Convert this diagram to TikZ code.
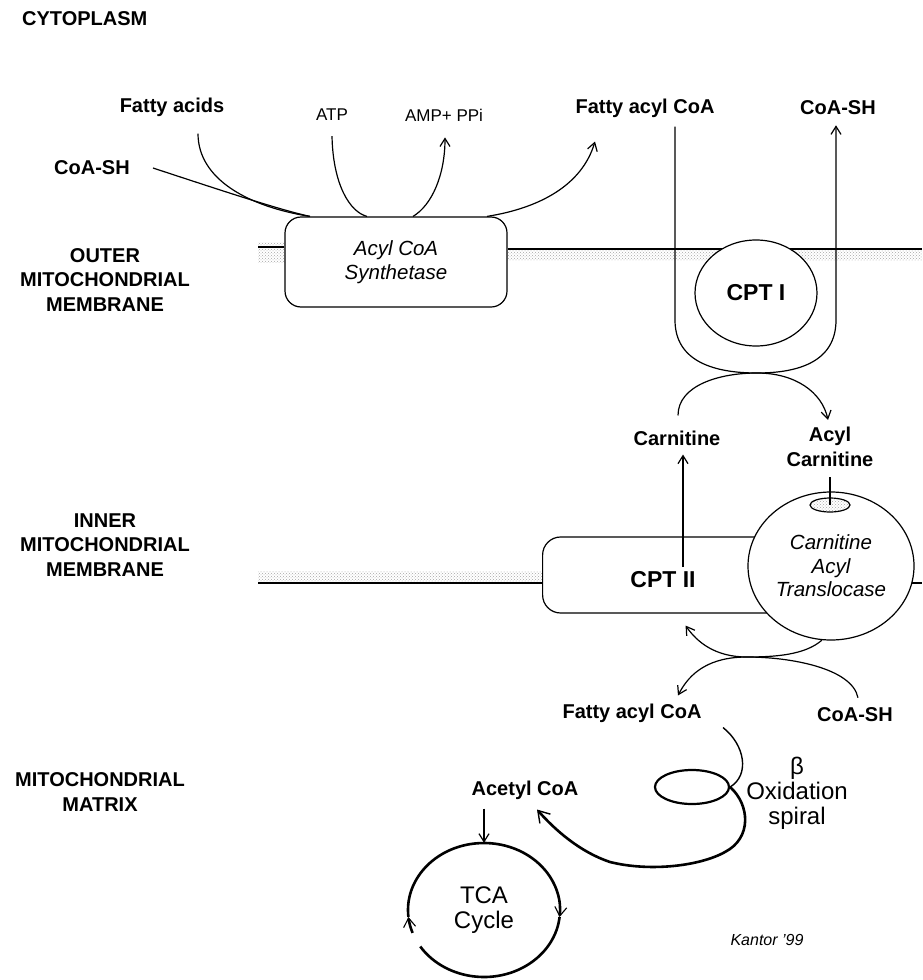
\documentclass[tikz,border=0pt]{standalone}
\usepackage{fontspec}
\setmainfont{Liberation Sans}
\usetikzlibrary{arrows.meta,positioning,shapes.geometric,patterns}

\tikzset{
  region/.style={font=\fontsize{20}{24.5}\selectfont\bfseries, align=center, inner sep=0pt},
  metab/.style={font=\fontsize{20}{25}\selectfont\bfseries, align=center, inner sep=1pt},
  minor/.style={font=\fontsize{17}{20}\selectfont, inner sep=1pt},
  enzyme/.style={font=\fontsize{20.5}{23.5}\selectfont\itshape, align=center, inner sep=0pt},
  cpt/.style={font=\fontsize{23}{26}\selectfont\bfseries, inner sep=1pt},
  plain/.style={font=\fontsize{24}{25}\selectfont, align=center, inner sep=0pt},
  conn/.style={line width=1.2pt},
  flow/.style={conn, -{Straight Barb[length=8pt,width=10pt]}},
  membrane/.style={line width=1.3pt},
  stipple/.style={pattern=crosshatch dots, pattern color=gray!70},
  tcaring/.style={line width=2.6pt},
  ringtip/.style={-{Straight Barb[length=9pt,width=12pt,line width=1.1pt]}}
}

\begin{document}
\begin{tikzpicture}[x=1pt, y=-1pt]
\useasboundingbox (0,0) rectangle (922,980);

% compartments
\node[region, anchor=base west] (cyto) at (22,25) {CYTOPLASM};
\node[region] (outer) at (105,280) {OUTER\\MITOCHONDRIAL\\MEMBRANE};
\node[region] (inner) at (105,545) {INNER\\MITOCHONDRIAL\\MEMBRANE};
\node[region] (matrix) at (100,792) {MITOCHONDRIAL\\MATRIX};

% membranes
\fill[stipple] (258,242) rectangle (285,262);
\fill[stipple] (507,250) rectangle (922,260);
\fill[stipple] (258,571) rectangle (542,582);

\node[draw, conn, rounded corners=16pt, minimum width=222pt, minimum height=90pt, enzyme] (acs) at (396,262) {Acyl CoA\\Synthetase};
\coordinate (om1) at (258,247);
\coordinate (om2) at (922,249);
\draw[membrane] (om1) -- (om1 -| acs.west);
\draw[membrane] (acs.east |- om2) -- (om2);

% activation in the cytoplasm
\node[metab] (fa) at (172,107) {Fatty acids};
\node[metab] (coash1) at (92,168) {CoA-SH};
\node[minor] (atp) at (332,115) {ATP};
\node[minor] (amp) at (444,115) {AMP+ PPi};
\node[metab] (facoa1) at (645,108) {Fatty acyl CoA};
\node[metab] (coash2) at (838,108) {CoA-SH};

\draw[conn] ([xshift=22pt]coash1.east) .. controls (220,190) and (280,210) .. ([xshift=-86pt]acs.north);
\draw[conn] ([xshift=26pt,yshift=-16pt]fa.south) .. controls (198,180) and (250,207) .. ([xshift=-86pt]acs.north);
\draw[conn] ([yshift=-14pt]atp.south) .. controls (333,185) and (350,212) .. ([xshift=-29pt]acs.north);
\draw[flow] ([xshift=17pt]acs.north) .. controls (432,205) and (445,175) .. ([xshift=1pt,yshift=-15pt]amp.south);
\draw[flow] ([xshift=91pt]acs.north) .. controls (540,208) and (582,185) .. ([xshift=-50pt,yshift=-23pt]facoa1.south);

% CPT I
\coordinate (uin) at ([xshift=30pt,yshift=-8pt]facoa1.south);
\coordinate (uout) at ([xshift=-2pt,yshift=-9pt]coash2.south);
\draw[flow] (uin) -- (675,320) .. controls (675,362) and (715,373) .. (757,373) .. controls (798,373) and (836,362) .. (836,320) -- (uout);
\node[draw, conn, ellipse, fill=white, minimum width=122pt, minimum height=106pt, cpt, inner sep=0pt] (cpt1) at (756,293) {CPT I};

\node[metab] (carn) at (677,438) {Carnitine};
\node[metab] (acylcarn) at (830,447) {Acyl\\Carnitine};
\draw[flow] ([xshift=1pt,yshift=14pt]carn.north) .. controls (678,385) and (720,373) .. (757,373) .. controls (795,373) and (822,392) .. ([xshift=-2pt,yshift=6pt]acylcarn.north);

% CPT II and translocase
\node[draw, conn, rounded corners=18pt, minimum width=280pt, minimum height=76pt, anchor=west] (cpt2box) at (542,575) {};
\node[cpt] (cpt2) at (663,580) {CPT II};
\coordinate (im1) at (258,583);
\coordinate (im2) at (922,583);
\draw[membrane] (im1) -- (im1 -| cpt2box.west);
\draw[membrane] (880,583) -- (im2);
\node[draw, conn, ellipse, fill=white, minimum width=166pt, minimum height=148pt, enzyme] (cat) at (831,566) {Carnitine\\Acyl\\Translocase};
\node[draw, conn, ellipse, minimum width=40pt, minimum height=14pt, inner sep=0pt, stipple] (pore) at (830,505) {};
\draw[conn] ([yshift=-9pt]acylcarn.south) -- (pore.center);

\coordinate (cptout) at (683,567);
\draw[flow, shorten >=8pt] (cptout) -- (cptout |- carn.south);

% back into the matrix
\node[metab] (facoa2) at (632,713) {Fatty acyl CoA};
\node[metab] (coash3) at (855,715) {CoA-SH};
\draw[flow] (cat.263) .. controls (805,655) and (775,657) .. (747,657) .. controls (715,657) and (697,642) .. ([xshift=3pt,yshift=-12pt]cpt2box.south);
\draw[flow] ([xshift=3pt,yshift=9pt]coash3.north) .. controls (852,668) and (790,657) .. (747,657) .. controls (710,657) and (690,672) .. ([xshift=46pt,yshift=7pt]facoa2.north);

% beta oxidation
\node[metab] (acetyl) at (525,790) {Acetyl CoA};
\node[draw, ellipse, line width=2.2pt, minimum width=74pt, minimum height=34pt, inner sep=0pt] (loop) at (692,787) {};
\draw[conn, line width=1.4pt] ([xshift=91pt,yshift=-4pt]facoa2.south) .. controls (745,745) and (750,775) .. (loop.east);
\draw[line width=2.6pt, -{Straight Barb[length=11pt,width=14pt,line width=1.4pt]}] (loop.east) .. controls (750,805) and (752,838) .. (725,852) .. controls (700,866) and (650,872) .. (610,862) .. controls (580,852) and (555,830) .. ([xshift=12pt,yshift=-9pt]acetyl.south);
\node[plain] (beta) at (797,793) {β\\Oxidation\\spiral};

% TCA cycle
\node[plain, ellipse, minimum width=152pt, minimum height=134pt] (tca) at (484,910) {TCA\\Cycle};
\draw[flow] ([yshift=-8pt]acetyl.south -| tca.north) -- (tca.north);
\draw[tcaring, ringtip] (tca.center) ++(200:76pt and 67pt) arc[start angle=200, end angle=186, x radius=76pt, y radius=67pt];
\draw[tcaring, ringtip] (tca.center) ++(186:76pt and 67pt) arc[start angle=186, end angle=-6, x radius=76pt, y radius=67pt];
\draw[tcaring] (tca.center) ++(-6:76pt and 67pt) arc[start angle=-6, end angle=-147, x radius=76pt, y radius=67pt];

\node[font=\fontsize{16}{18}\selectfont\itshape] (sig) at (767,940) {Kantor '99};
\end{tikzpicture}
\end{document}
